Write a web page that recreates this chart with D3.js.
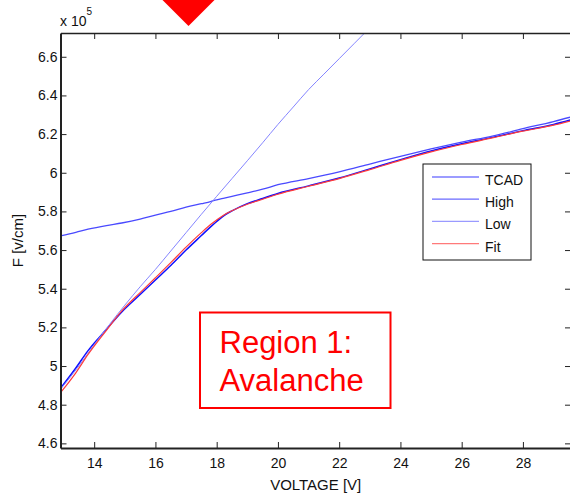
<!DOCTYPE html>
<html>
<head>
<meta charset="utf-8">
<script src="https://cdn.jsdelivr.net/npm/d3@7"></script>
<style>
  body { margin: 0; background: #fff; }
  svg { display: block; font-family: "Liberation Sans", Arial, sans-serif; }
  .axis path, .axis line { stroke: #222; }
  .axis text { font-size: 14px; fill: #111; }
</style>
</head>
<body>
<svg id="chart" width="570" height="494"></svg>
<script>
// sampled voltages for TCAD / High / Fit curves
const voltage = [12.9, 13.4, 13.8, 14.4, 14.9, 15.5, 16.0, 16.5, 17.0, 17.5, 17.8, 18.0, 18.25, 18.5,
  19.0, 19.5, 20.0, 21.0, 22.0, 23.0, 24.0, 25.0, 26.0, 27.0, 28.0, 29.0, 29.6];
const tcad = [4.885, 4.99, 5.08, 5.19, 5.28, 5.37, 5.445, 5.52, 5.60, 5.675, 5.72, 5.748, 5.78, 5.803,
  5.84, 5.867, 5.893, 5.932, 5.973, 6.02, 6.068, 6.113, 6.15, 6.183, 6.218, 6.25, 6.275];
const high = [5.674, 5.692, 5.708, 5.727, 5.74, 5.76, 5.781, 5.80, 5.822, 5.84, 5.851, 5.86, 5.869, 5.878,
  5.896, 5.915, 5.938, 5.97, 6.005, 6.045, 6.085, 6.123, 6.158, 6.19, 6.228, 6.265, 6.29];
const fit = [4.862, 4.965, 5.06, 5.185, 5.285, 5.38, 5.457, 5.535, 5.615, 5.69, 5.732, 5.756, 5.783, 5.803,
  5.837, 5.863, 5.889, 5.93, 5.97, 6.016, 6.064, 6.108, 6.146, 6.18, 6.215, 6.246, 6.27];

// the low-field line has its own samples
const lowVoltage = [12.9, 13.5, 14.0, 14.5, 15.0, 15.5, 16.0, 16.5, 17.0, 17.5, 18.0, 18.5,
  19.0, 19.5, 20.0, 20.5, 21.0, 21.5, 22.0, 22.5, 23.0];
const low = [4.88, 5.0, 5.11, 5.215, 5.315, 5.41, 5.5, 5.595, 5.69, 5.785, 5.878, 5.97,
  6.062, 6.155, 6.25, 6.34, 6.43, 6.51, 6.59, 6.67, 6.75];

const xTicks = [14, 16, 18, 20, 22, 24, 26, 28];
const yTicks = [4.6, 4.8, 5, 5.2, 5.4, 5.6, 5.8, 6, 6.2, 6.4, 6.6];
const legendNames = ['TCAD', 'High', 'Low', 'Fit'];

const svg = d3.select('#chart');
const x = d3.scaleLinear().domain([12.9, 29.57]).range([60.5, 571]);
const y = d3.scaleLinear().domain([4.576, 6.723]).range([448, 33]);

svg.append('rect').attr('width', 570).attr('height', 494).attr('fill', '#fff');

// marker triangle above the plot
const tx = x(17.08);
svg.append('path')
  .attr('d', `M${tx - 26},0 L${tx + 26},0 L${tx},26 Z`)
  .attr('fill', '#ff0000');

svg.append('clipPath').attr('id', 'plotClip')
  .append('rect')
    .attr('x', 60.5).attr('y', 33)
    .attr('width', 510.5).attr('height', 415);

const series = [
  { name: 'TCAD', xs: voltage, ys: tcad, color: '#1010ff', key: '#3a3aff', width: 1.5 },
  { name: 'High', xs: voltage, ys: high, color: '#4a4aff', key: '#6a6aff', width: 1.3 },
  { name: 'Low', xs: lowVoltage, ys: low, color: '#8585ff', key: '#9a9aff', width: 1 },
  { name: 'Fit', xs: voltage, ys: fit, color: '#ff3b3b', key: '#ff7a7a', width: 1.2 },
];

const line = d3.line()
  .curve(d3.curveMonotoneX)
  .x(d => x(d[0]))
  .y(d => y(d[1]));

svg.append('g')
  .attr('clip-path', 'url(#plotClip)')
  .selectAll('path')
  .data(series)
  .join('path')
    .attr('d', s => line(s.xs.map((v, i) => [v, s.ys[i]])))
    .attr('fill', 'none')
    .attr('stroke', s => s.color)
    .attr('stroke-width', s => s.width);

// axes, ticks pointing inward
svg.append('g')
  .attr('class', 'axis')
  .attr('transform', 'translate(0,448)')
  .call(d3.axisBottom(x).tickValues(xTicks).tickSizeInner(-6).tickSizeOuter(0).tickPadding(10))
  .call(g => g.select('.domain').attr('stroke-width', 2));

svg.append('g')
  .attr('class', 'axis')
  .attr('transform', 'translate(0,33)')
  .call(d3.axisTop(x).tickValues(xTicks).tickSizeInner(-6).tickSizeOuter(0).tickFormat(''))
  .call(g => g.select('.domain').attr('stroke-width', 1.5).attr('stroke', '#444'));

svg.append('g')
  .attr('class', 'axis')
  .attr('transform', 'translate(60.5,0)')
  .call(d3.axisLeft(y).tickValues(yTicks).tickSizeInner(-6).tickSizeOuter(0).tickPadding(3)
    .tickFormat(d3.format('')))
  .call(g => g.select('.domain').attr('stroke-width', 2));

svg.append('g')
  .attr('class', 'axis')
  .attr('transform', 'translate(571,0)')
  .call(d3.axisRight(y).tickValues(yTicks).tickSizeInner(-6).tickSizeOuter(0).tickFormat(''));

// axis titles
svg.append('text')
  .attr('x', 315.7).attr('y', 490)
  .attr('text-anchor', 'middle')
  .attr('font-size', 15)
  .attr('fill', '#111')
  .text('VOLTAGE [V]');

svg.append('text')
  .attr('transform', 'translate(23,240.5) rotate(-90)')
  .attr('text-anchor', 'middle')
  .attr('font-size', 15)
  .attr('fill', '#111')
  .text('F [v/cm]');

const expo = svg.append('text')
  .attr('x', 60).attr('y', 26)
  .attr('font-size', 14)
  .attr('fill', '#111')
  .text('x 10');
expo.append('tspan')
  .attr('dy', -11)
  .attr('font-size', 10)
  .text('5');

// legend
const legend = svg.append('g').attr('transform', 'translate(423,164)');
legend.append('rect')
  .attr('width', 108).attr('height', 96)
  .attr('fill', '#fff')
  .attr('stroke', '#111')
  .attr('stroke-width', 1);

const rows = legend.selectAll('g.row')
  .data(series)
  .join('g')
    .attr('class', 'row')
    .attr('transform', (d, i) => `translate(0,${21 + i * 22.2})`);
rows.append('line')
  .attr('x1', 9).attr('x2', 56)
  .attr('y1', -8).attr('y2', -8)
  .attr('stroke', d => d.key)
  .attr('stroke-width', 1.2);
rows.append('text')
  .attr('x', 62)
  .attr('font-size', 14)
  .attr('fill', '#111')
  .text((d, i) => legendNames[i]);

// annotation box
svg.append('rect')
  .attr('x', 200).attr('y', 312.5)
  .attr('width', 190.5).attr('height', 95.5)
  .attr('fill', 'none')
  .attr('stroke', '#ff0000')
  .attr('stroke-width', 2);

svg.append('text')
  .attr('x', 219.5).attr('y', 353.3)
  .attr('font-size', 31)
  .attr('fill', '#ff0000')
  .text('Region 1:');
svg.append('text')
  .attr('x', 219.5).attr('y', 390.7)
  .attr('font-size', 31)
  .attr('fill', '#ff0000')
  .text('Avalanche');
</script>
</body>
</html>
